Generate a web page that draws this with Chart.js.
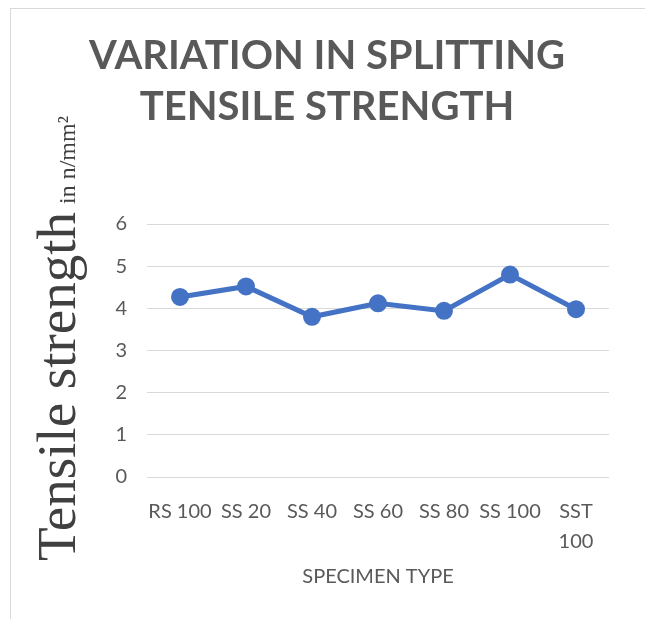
<!DOCTYPE html>
<html>
<head>
<meta charset="utf-8">
<script src="https://cdn.jsdelivr.net/npm/chart.js@4/dist/chart.umd.min.js"></script>
<style>
  html, body { margin: 0; padding: 0; background: #fff; }
  #wrap { width: 645px; height: 619px; }
</style>
</head>
<body>
<div id="wrap"><canvas id="lineChart" width="645" height="619"></canvas></div>
<script>
// Data
const categories = ['RS 100', 'SS 20', 'SS 40', 'SS 60', 'SS 80', 'SS 100', ['SST', '100']];
const strength = [4.27, 4.52, 3.8, 4.12, 3.94, 4.8, 3.98];
const yTicks = [0, 1, 2, 3, 4, 5, 6];

const chartTitle = ['VARIATION IN SPLITTING', 'TENSILE STRENGTH'];
const yTitle = 'Tensile strength';
const yUnit = 'in n/mm\u00B2';
const xTitle = 'SPECIMEN TYPE';

const grey = '#595959';

// Frame + rotated y-axis title (two sizes, so drawn by hand)
const extras = {
    id: 'extras',
    beforeDraw(chart) {
        const c = chart.ctx;
        c.save();
        c.fillStyle = '#fff';
        c.fillRect(0, 0, chart.width, chart.height);
        c.strokeStyle = '#d9d9d9';
        c.lineWidth = 1;
        c.strokeRect(10.5, 8.5, chart.width + 20, chart.height + 20);
        c.restore();
    },
    afterDraw(chart) {
        const c = chart.ctx;
        c.save();
        c.translate(75, 561);
        c.rotate(-Math.PI / 2);
        c.fillStyle = '#404040';
        c.textBaseline = 'alphabetic';
        c.textAlign = 'left';
        c.font = '55px "Liberation Serif"';
        c.fillText(yTitle, 0, 0);
        const w = c.measureText(yTitle).width;
        c.font = '24px "Liberation Serif"';
        c.fillText(yUnit, w + 8, 0);
        c.restore();
    }
};

const ctx = document.getElementById('lineChart').getContext('2d');

const lineChart = new Chart(ctx, {
    type: 'line',
    data: {
        labels: categories,
        datasets: [{
            data: strength,
            borderColor: '#4472c4',
            backgroundColor: '#4472c4',
            borderWidth: 5,
            pointRadius: 6.5,
            pointHoverRadius: 6.5,
            fill: false,
            tension: 0,
        }],
    },
    options: {
        responsive: false,
        animation: false,
        layout: { padding: { left: 9, right: 0, top: 0, bottom: 0 } },
        plugins: {
            legend: { display: false },
            tooltip: { enabled: false },
            title: {
                display: true,
                text: chartTitle,
                color: grey,
                font: { family: 'Lato', size: 40, weight: 'bold', lineHeight: 51 / 40 },
                padding: { top: 31, bottom: 91 },
            },
        },
        scales: {
            x: {
                offset: true,
                grid: { display: false },
                border: { display: false },
                ticks: {
                    color: grey,
                    font: { family: 'Lato', size: 20, lineHeight: 1.5 },
                    padding: 12,
                    maxRotation: 0,
                    autoSkip: false,
                },
                title: {
                    display: true,
                    text: xTitle,
                    color: grey,
                    font: { family: 'Lato', size: 20, lineHeight: 1.2 },
                    padding: { top: 0, bottom: 30 },
                },
                afterFit(scale) { scale.height = 619 - 477; },
            },
            y: {
                min: 0,
                max: 6,
                afterBuildTicks(scale) { scale.ticks = yTicks.map(v => ({ value: v })); },
                grid: { color: '#d9d9d9', lineWidth: 1, drawTicks: false },
                border: { display: false },
                ticks: {
                    color: grey,
                    font: { family: 'Lato', size: 20 },
                    padding: 20,
                },
                afterFit(scale) { scale.width = 138; },
            },
            // empty right-hand gutter so the plot ends where the original does
            gutter: {
                position: 'right',
                min: 0,
                max: 6,
                grid: { display: false, drawTicks: false },
                border: { display: false },
                ticks: { display: false },
                afterFit(scale) { scale.width = 36; },
            },
        },
    },
    plugins: [extras],
});
</script>
</body>
</html>
